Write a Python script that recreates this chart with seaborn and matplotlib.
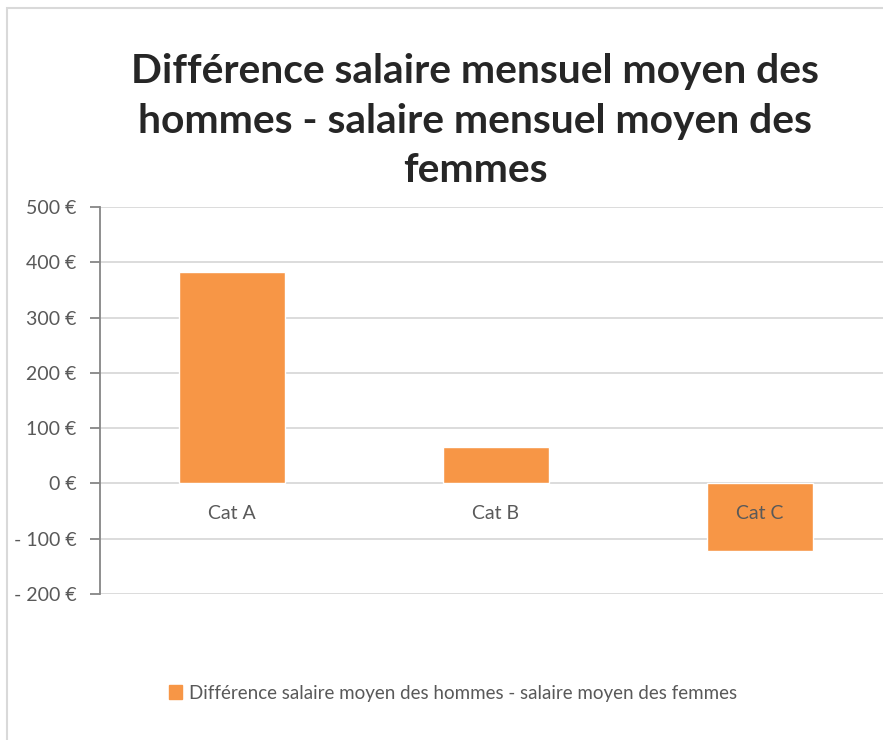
"""Excel-style bar chart: gender pay gap per category."""
import matplotlib
matplotlib.use('Agg')
import matplotlib.pyplot as plt
import matplotlib.patches as mpatches
import seaborn as sns
import pandas as pd

categories = ['Cat A', 'Cat B', 'Cat C']
ecarts = [382, 65, -123]
yticks = [-200, -100, 0, 100, 200, 300, 400, 500]
title = 'Différence salaire mensuel moyen des\nhommes - salaire mensuel moyen des\nfemmes'
serie = 'Différence salaire moyen des hommes - salaire moyen des femmes'

ORANGE = '#F79646'
GRIS_TXT = '#595959'

sns.set_style('white')
plt.rcParams['font.family'] = ['Lato', 'DejaVu Sans']

df = pd.DataFrame({'cat': categories, 'val': ecarts})

W, H = 883, 740
fig = plt.figure(figsize=(W / 100, H / 100), dpi=100)

# chart area border (cropped on the right and bottom)
fig.patches.append(mpatches.Rectangle((7 / W, -0.1), 1.2, 1 - 8 / H + 0.1,
                                      transform=fig.transFigure, fill=False,
                                      edgecolor='#D9D9D9', linewidth=1.5))

ax = fig.add_axes([100 / W, 1 - 594 / H, 792 / W, (594 - 207) / H])
sns.barplot(data=df, x='cat', y='val', color=ORANGE, width=0.4,
            saturation=1, ax=ax, zorder=2)

ax.set_ylim(-200, 500)
ax.set_xlim(-0.5, 2.5)
ax.set_yticks(yticks)
ax.set_yticklabels([f'{v} €' if v >= 0 else f'- {abs(v)} €' for v in yticks],
                   fontsize=14, color=GRIS_TXT)
ax.yaxis.grid(True, color='#D9D9D9', linewidth=1.3, zorder=0)
ax.set_axisbelow(True)
ax.xaxis.set_zorder(3)  # category labels drawn over the bars
ax.set_xlabel('')
ax.set_ylabel('')

for s in ['top', 'right']:
    ax.spines[s].set_visible(False)
ax.spines['left'].set_color('#868686')
ax.spines['left'].set_linewidth(1.3)
ax.spines['bottom'].set_position(('data', 0))
ax.spines['bottom'].set_visible(False)
ax.tick_params(axis='y', left=True, length=7, width=1.3, color='#868686', pad=10)
ax.tick_params(axis='x', bottom=False, labelsize=14, labelcolor=GRIS_TXT, pad=12)

fig.text(0.538, 1 - 121 / H, title, ha='center', va='center', fontsize=29.3,
         fontweight='bold', linespacing=1.43)

handle = mpatches.Patch(color=ORANGE, label=serie)
fig.legend(handles=[handle], loc='center', bbox_to_anchor=(0.513, 1 - 693 / H),
           frameon=False, fontsize=13.5, labelcolor=GRIS_TXT,
           handlelength=0.7, handleheight=0.7, handletextpad=0.4)

fig.savefig('out.png', dpi=100)
